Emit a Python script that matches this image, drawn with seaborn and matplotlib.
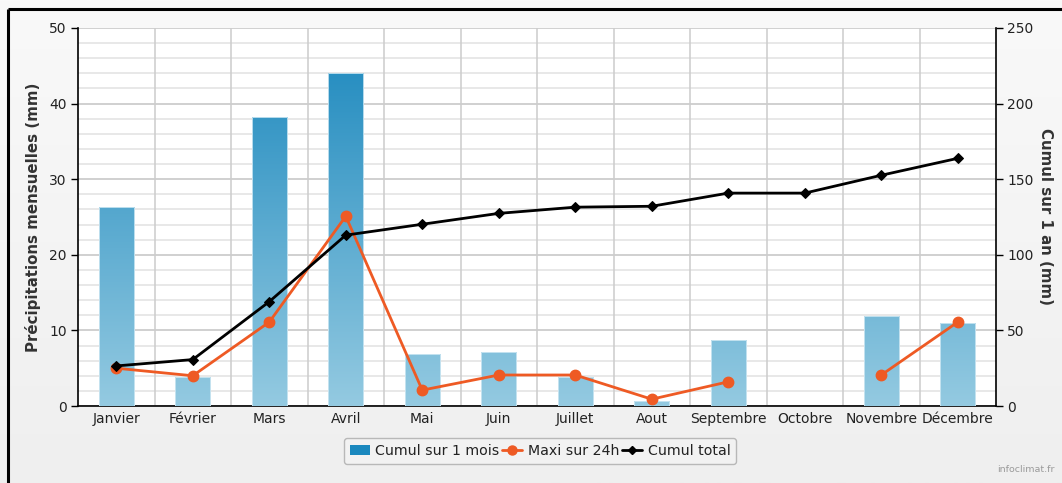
import numpy as np
import pandas as pd
import matplotlib
matplotlib.use("Agg")
import matplotlib.pyplot as plt
from matplotlib.colors import LinearSegmentedColormap
from matplotlib.lines import Line2D
from matplotlib.patches import Patch
import seaborn as sns

# Monthly rainfall data (mm)
months = ["Janvier", "Février", "Mars", "Avril", "Mai", "Juin", "Juillet",
          "Aout", "Septembre", "Octobre", "Novembre", "Décembre"]
monthly_total = [26.3, 3.9, 38.2, 44.1, 6.9, 7.1, 3.9, 0.7, 8.7, 0.0, 11.9, 11.0]
max_24h = [5.0, 4.0, 11.1, 25.1, 2.1, 4.1, 4.1, 0.9, 3.2, np.nan, 4.1, 11.1]
running_total = [26.5, 30.7, 69.0, 113.0, 120.2, 127.4, 131.5, 132.1,
                 140.8, 140.8, 152.6, 163.8]

left_ticks = [0, 10, 20, 30, 40, 50]
right_ticks = [0, 50, 100, 150, 200, 250]

sns.set_theme(style="white")
plt.rcParams["font.family"] = ["DejaVu Sans"]

W, H = 1062, 483
fig = plt.figure(figsize=(W / 100, H / 100), dpi=100)

# soft grey page background with the frame border
bg = fig.add_axes([0, 0, 1, 1], zorder=-10)
grad = np.linspace(0, 1, 256).reshape(-1, 1)
bg_cmap = LinearSegmentedColormap.from_list("bg", ["#efefef", "#f9f9f9"])
bg.imshow(grad, aspect="auto", cmap=bg_cmap, origin="lower", extent=(0, 1, 0, 1))
bg.plot([8 / W, 8 / W], [0, 1 - 9 / H], color="black", lw=2.2, solid_capstyle="butt")
bg.plot([8 / W, 1], [1 - 9 / H, 1 - 9 / H], color="black", lw=2.2, solid_capstyle="butt")
bg.set_xlim(0, 1)
bg.set_ylim(0, 1)
bg.axis("off")

ax = fig.add_axes([78 / W, 1 - 406 / H, (996 - 78) / W, (406 - 28) / H])
ax.set_facecolor("white")

df = pd.DataFrame({"mois": months, "cumul": monthly_total})
sns.barplot(data=df, x="mois", y="cumul", ax=ax, width=0.46,
            color="#3a9ccb", saturation=1, zorder=3)

# vertical gradient fill inside each bar
bar_cmap = LinearSegmentedColormap.from_list("bars", ["#94cae1", "#1a87bd"])
ygrad = np.linspace(0, 1, 256).reshape(-1, 1)
for patch in list(ax.patches):
    x0 = patch.get_x()
    x1 = x0 + patch.get_width()
    patch.set_facecolor("none")
    patch.set_edgecolor("#cfe8f3")
    patch.set_linewidth(0.6)
    if patch.get_height() <= 0:
        patch.set_edgecolor("none")
        continue
    im = ax.imshow(ygrad, extent=(x0, x1, 0, 50), aspect="auto", origin="lower",
                   cmap=bar_cmap, zorder=2.9)
    im.set_clip_path(patch)

x = np.arange(len(months))
ax.plot(x, max_24h, color="#ee5a24", lw=2, marker="o", markersize=7.5, zorder=5)

ax.set_xlim(-0.5, 11.5)
ax.set_ylim(0, 50)
ax.set_yticks(left_ticks)
ax.set_xticks(x)
ax.set_xticklabels(months)
ax.set_xticks(np.arange(-0.5, 12, 1), minor=True)

ax.grid(False)
for v in np.arange(0, 51, 2):
    major = v % 10 == 0
    ax.axhline(v, color="#c4c4c4" if major else "#e2e2e2", lw=1.1, zorder=1)
for b in np.arange(0.5, 11.5, 1):
    ax.axvline(b, color="#cccccc", lw=1.1, zorder=1)

ax.tick_params(axis="x", which="major", length=0, labelsize=10, pad=4, colors="#222222")
ax.tick_params(axis="x", which="minor", length=5, width=1, color="black", direction="out")
ax.tick_params(axis="y", which="major", length=5, width=1, color="black",
               direction="out", labelsize=10, labelcolor="#222222", left=True, pad=3)
ax.set_xlabel("")
ax.set_ylabel("Précipitations mensuelles (mm)", fontsize=10.8, fontweight="bold",
              color="#333333", labelpad=6)
for s in ["left", "bottom"]:
    ax.spines[s].set_color("black")
    ax.spines[s].set_linewidth(1.2)
ax.spines["top"].set_visible(False)
ax.spines["right"].set_visible(False)

ax2 = ax.twinx()
sns.lineplot(x=x, y=running_total, ax=ax2, color="black", lw=2, marker="D",
             markersize=5, markeredgecolor="black", zorder=6)
ax2.set_ylim(0, 250)
ax2.set_yticks(right_ticks)
ax2.tick_params(axis="y", length=5, width=1, color="black", direction="out",
                labelsize=10, labelcolor="#222222", right=True, pad=3)
ax2.set_ylabel("Cumul sur 1 an (mm)", fontsize=10.8, fontweight="bold",
               color="#333333", rotation=270, labelpad=14)
for s in ["left", "top", "bottom"]:
    ax2.spines[s].set_visible(False)
ax2.spines["right"].set_color("black")
ax2.spines["right"].set_linewidth(1.2)
ax2.grid(False)

handles = [
    Patch(facecolor="#1b88be", edgecolor="none"),
    Line2D([0], [0], color="#ee5a24", lw=2, marker="o", markersize=6.5),
    Line2D([0], [0], color="black", lw=2, marker="D", markersize=4.5),
]
labels = ["Cumul sur 1 mois", "Maxi sur 24h", "Cumul total"]
leg = fig.legend(handles, labels, loc="center", bbox_to_anchor=(540 / W, 1 - 451 / H),
                 ncol=3, fontsize=10.2, frameon=True, handlelength=1.4,
                 handletextpad=0.4, columnspacing=0.2, borderpad=0.4,
                 fancybox=True, edgecolor="#aaaaaa", facecolor="#f4f4f4")
leg.get_frame().set_linewidth(1)
for t in leg.get_texts():
    t.set_color("#222222")

fig.text(1055 / W, 1 - 470 / H, "infoclimat.fr", ha="right", va="center",
         fontsize=6.8, color="#9a9a9a")

fig.savefig("out.png", dpi=100)
